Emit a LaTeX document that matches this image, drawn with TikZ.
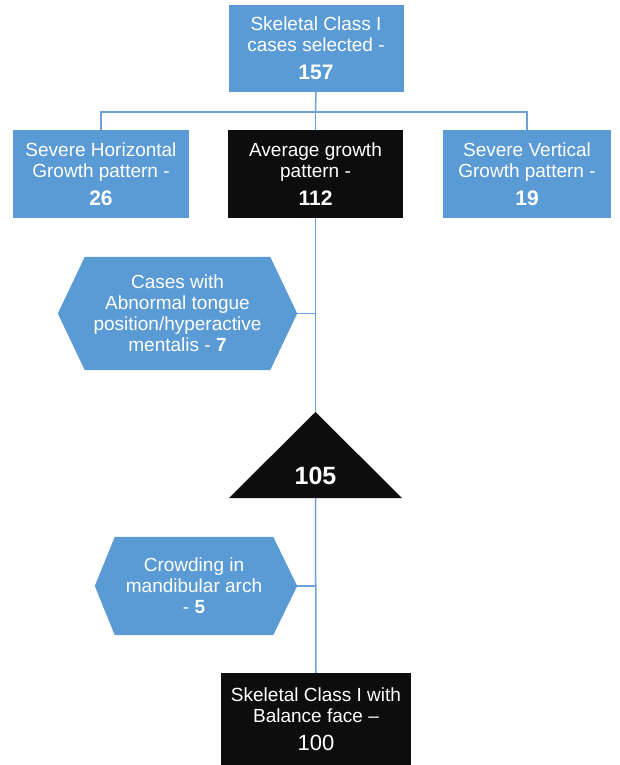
\documentclass[tikz,border=0pt]{standalone}
\usepackage{fontspec}
\setmainfont{Liberation Sans}
\usetikzlibrary{calc,backgrounds}
\definecolor{boxblue}{HTML}{5B9BD5}
\definecolor{lineblue}{HTML}{6E9FD6}
\definecolor{boxblack}{HTML}{0D0D0D}
\newcommand\bignum[1]{{\fontsize{21}{21}\selectfont\bfseries #1}}
\begin{document}
\begin{tikzpicture}[x=1pt,y=-1pt,
  base/.style={text=white, align=center, inner sep=0pt, font=\fontsize{19}{21}\selectfont},
  bluebox/.style={base, fill=boxblue},
  blackbox/.style={base, fill=boxblack},
  hexbody/.style={base},
  conn/.style={draw=lineblue, line width=1.5pt}]
\useasboundingbox (0,0) rectangle (619,765);

% top row
\node[bluebox, minimum width=175pt, minimum height=87pt] (top) at (316,48.5)
  {Skeletal Class I\\cases selected -\\[7pt]\bignum{157}};
\node[bluebox, minimum width=176pt, minimum height=88pt] (left) at (101,174)
  {Severe Horizontal\\Growth pattern -\\[7pt]\bignum{26}};
\node[blackbox, minimum width=175pt, minimum height=88pt] (mid) at (315.5,174)
  {Average growth\\pattern -\\[7pt]\bignum{112}};
\node[bluebox, minimum width=168pt, minimum height=88pt] (right) at (527,174)
  {Severe Vertical\\Growth pattern -\\[7pt]\bignum{19}};

\coordinate (j) at (315.5,112);
\draw[conn] (top.south) -- (j);
\draw[conn] (left.north) -- (left.north |- j) -- (right.north |- j) -- (right.north);
\draw[conn] (j) -- (mid.north);

% hexagon 1
\node[hexbody, minimum width=185pt, minimum height=113pt] (hex1) at (177.5,313.5)
  {Cases with\\Abnormal tongue\\position/hyperactive\\mentalis - \textbf{7}};
\coordinate (hex1tip) at ($(hex1.east)+(27,0)$);

% triangle
\coordinate (triA) at (315.5,412);
\coordinate (triL) at (229,498);
\coordinate (triR) at (402,498);
\coordinate (triB) at (315.5,498);
\fill[boxblack] (triA) -- (triR) -- (triL) -- cycle;
\node[base, font=\fontsize{25}{25}\selectfont\bfseries] (tri) at (315.5,476) {105};

\draw[conn] (mid.south) -- (triA);
\draw[conn] (hex1tip) -- (hex1tip -| mid.south);

% hexagon 2
\node[hexbody, minimum width=158pt, minimum height=98pt] (hex2) at (194,586)
  {Crowding in\\mandibular arch\\- \textbf{5}};
\coordinate (hex2tip) at ($(hex2.east)+(24,0)$);

% bottom box
\node[blackbox, minimum width=190pt, minimum height=92pt] (bot) at (316,719)
  {Skeletal Class I with\\Balance face --\\[7pt]{\fontsize{22}{22}\selectfont 100}};

\draw[conn] (triB) -- (bot.north);
\draw[conn] (hex2tip) -- (hex2tip -| bot.north);

\begin{scope}[on background layer]
\fill[white] (0,0) rectangle (619,765);
\fill[boxblue] (hex1.north west) -- (hex1.north east) -- (hex1tip) -- (hex1.south east)
  -- (hex1.south west) -- ($(hex1.west)+(-27,0)$) -- cycle;
\fill[boxblue] (hex2.north west) -- (hex2.north east) -- (hex2tip) -- (hex2.south east)
  -- (hex2.south west) -- ($(hex2.west)+(-20,0)$) -- cycle;
\end{scope}
\end{tikzpicture}
\end{document}
